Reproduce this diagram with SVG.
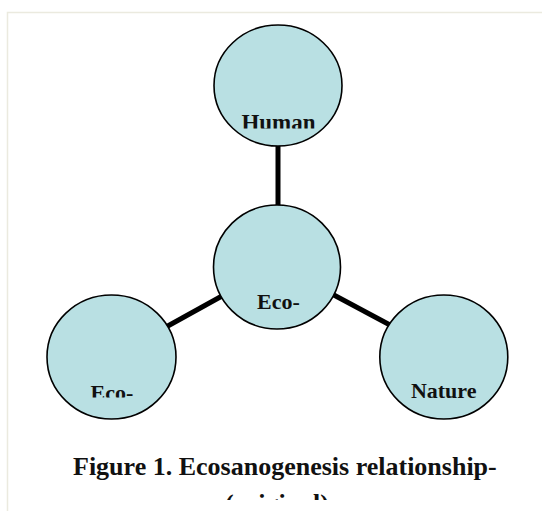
<svg xmlns="http://www.w3.org/2000/svg" width="542" height="511" viewBox="0 0 542 511">
<style>
.node{fill:#b9e0e3;stroke:#000;stroke-width:1.6}
.lbl{font-family:"Liberation Serif","Times New Roman",serif;font-weight:bold;font-size:22px;fill:#111;text-anchor:middle}
.cap{font-family:"Liberation Serif","Times New Roman",serif;font-weight:bold;font-size:26px;fill:#111}
.conn{stroke:#000;stroke-width:5;fill:none}
</style>
<defs>
<clipPath id="clipHuman"><rect x="200" y="90" width="150" height="38.5"/></clipPath>
<clipPath id="clipEcoL"><rect x="60" y="360" width="110" height="37.5"/></clipPath>
<clipPath id="clipCap2"><rect x="150" y="480" width="260" height="20"/></clipPath>
</defs>
<rect x="7.5" y="12.5" width="600" height="600" fill="#fff" stroke="#ebeadf" stroke-width="1.5"/>
<g id="connectors">
<line class="conn" x1="278" y1="144" x2="278" y2="207"/>
<line class="conn" x1="222" y1="296" x2="166" y2="327"/>
<line class="conn" x1="332" y1="294" x2="390" y2="325"/>
</g>
<g id="human">
<ellipse class="node" cx="278" cy="85.5" rx="64" ry="60.5"/>
<text class="lbl" x="278.5" y="129.5" clip-path="url(#clipHuman)" style="font-size:23px">Human</text>
</g>
<g id="eco-center">
<ellipse class="node" cx="277" cy="267" rx="63.5" ry="62"/>
<text class="lbl" x="278.5" y="308.5">Eco-</text>
</g>
<g id="eco-left">
<ellipse class="node" cx="111.5" cy="357" rx="64.5" ry="62"/>
<text class="lbl" x="112" y="400" clip-path="url(#clipEcoL)">Eco-</text>
</g>
<g id="nature">
<ellipse class="node" cx="443.8" cy="357" rx="64" ry="62"/>
<text class="lbl" x="443.7" y="397.5">Nature</text>
</g>
<g id="caption">
<text class="cap" x="73" y="475">Figure 1. Ecosanogenesis relationship-</text>
<text class="cap" x="277" y="512" text-anchor="middle" clip-path="url(#clipCap2)">(original)</text>
</g>
</svg>
